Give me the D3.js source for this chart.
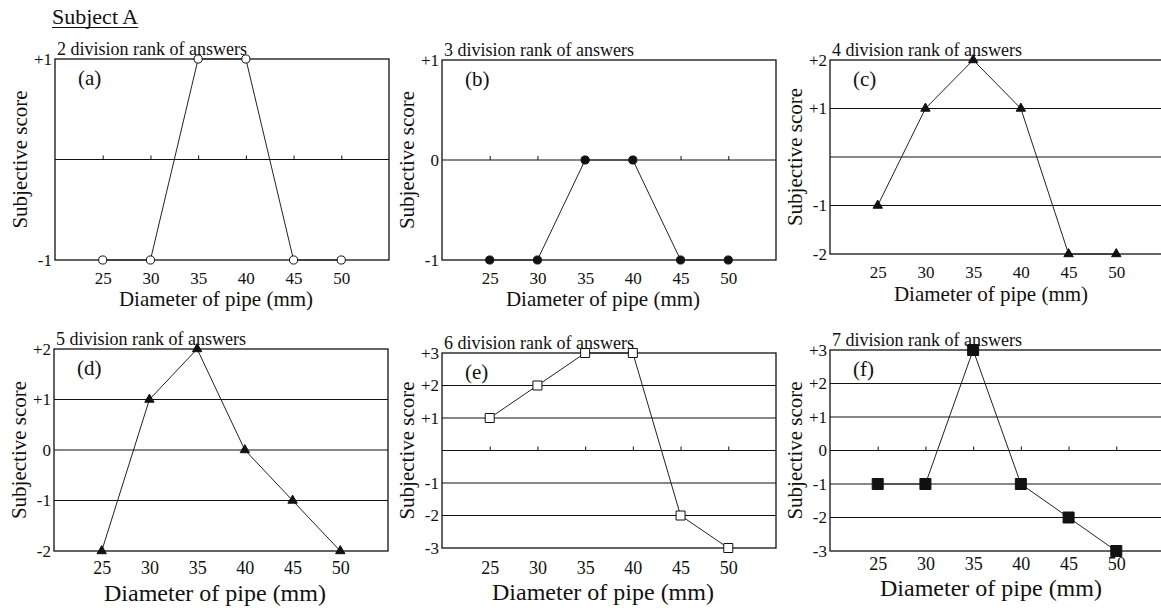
<!DOCTYPE html>
<html>
<head>
<meta charset="utf-8">
<script src="https://cdn.jsdelivr.net/npm/d3@7"></script>
<style>
  html, body { margin: 0; padding: 0; background: #fff; }
  svg { display: block; }
  text { font-family: "Liberation Serif", "Times New Roman", serif; fill: #111; }
</style>
</head>
<body>
<svg id="chart" width="1161" height="608"></svg>
<script>
// Pipe diameters tested (mm)
const diameters = [25, 30, 35, 40, 45, 50];

// Subjective scores of Subject A for each answer scale
const scores2 = [-1, -1, 1, 1, -1, -1];
const scores3 = [-1, -1, 0, 0, -1, -1];
const scores4 = [-1, 1, 2, 1, -2, -2];
const scores5 = [-2, 1, 2, 0, -1, -2];
const scores6 = [1, 2, 3, 3, -2, -3];
const scores7 = [-1, -1, 3, -1, -2, -3];

// Labelled ticks on the score axis of each panel
const yTicks2 = [-1, 1];
const yTicks3 = [-1, 0, 1];
const yTicks4 = [-2, -1, 1, 2];
const yTicks5 = [-2, -1, 0, 1, 2];
const yTicks6 = [-3, -2, -1, 1, 2, 3];
const yTicks7 = [-3, -2, -1, 0, 1, 2, 3];

// Horizontal reference lines inside each panel
const grid2 = [0];
const grid3 = [0];
const grid4 = [-1, 0, 1];
const grid5 = [-1, 0, 1];
const grid6 = [-2, -1, 0, 1, 2];
const grid7 = [-2, -1, 0, 1, 2];

const panelTags = ["(a)", "(b)", "(c)", "(d)", "(e)", "(f)"];
const divisions = [2, 3, 4, 5, 6, 7];

const panels = [
  { tag: panelTags[0], div: divisions[0], scores: scores2, yTicks: yTicks2, grid: grid2, range: 1, marker: "circleOpen",
    box: { x: 55, y: 59, w: 334, h: 201 }, zeroTicks: true, xLab: 24, xTitle: 46, xTitleSize: 21, xLabSize: 17 },
  { tag: panelTags[1], div: divisions[1], scores: scores3, yTicks: yTicks3, grid: grid3, range: 1, marker: "circleFilled",
    box: { x: 442, y: 60, w: 334, h: 200 }, zeroTicks: true, xLab: 24, xTitle: 46, xTitleSize: 21, xLabSize: 17 },
  { tag: panelTags[2], div: divisions[2], scores: scores4, yTicks: yTicks4, grid: grid4, range: 2, marker: "triangle",
    box: { x: 830, y: 60, w: 334, h: 194 }, zeroTicks: false, xLab: 24, xTitle: 47, xTitleSize: 21, xLabSize: 17 },
  { tag: panelTags[3], div: divisions[3], scores: scores5, yTicks: yTicks5, grid: grid5, range: 2, marker: "triangle",
    box: { x: 54, y: 349, w: 334, h: 202 }, zeroTicks: false, xLab: 23, xTitle: 50, xTitleSize: 24, xLabSize: 18 },
  { tag: panelTags[4], div: divisions[4], scores: scores6, yTicks: yTicks6, grid: grid6, range: 3, marker: "squareOpen",
    box: { x: 442, y: 353, w: 334, h: 195 }, zeroTicks: true, xLab: 26, xTitle: 52, xTitleSize: 24, xLabSize: 18 },
  { tag: panelTags[5], div: divisions[5], scores: scores7, yTicks: yTicks7, grid: grid7, range: 3, marker: "squareFilled",
    box: { x: 830, y: 350, w: 334, h: 201 }, zeroTicks: true, xLab: 19, xTitle: 45, xTitleSize: 24, xLabSize: 18 }
];

const svg = d3.select("#chart");
const ink = "#111";

// Heading
const heading = svg.append("text")
  .attr("x", 52).attr("y", 24)
  .attr("font-size", 22)
  .text("Subject A");
const hb = heading.node().getBBox();
svg.append("line")
  .attr("x1", hb.x).attr("x2", hb.x + hb.width)
  .attr("y1", 27.5).attr("y2", 27.5)
  .attr("stroke", ink).attr("stroke-width", 1.2);

const markerSymbols = {
  circleOpen:   { type: d3.symbolCircle,   size: 52,  fill: "#fff" },
  circleFilled: { type: d3.symbolCircle,   size: 52,  fill: ink },
  triangle:     { type: d3.symbolTriangle, size: 38,  fill: ink },
  squareOpen:   { type: d3.symbolSquare,   size: 81,  fill: "#fff" },
  squareFilled: { type: d3.symbolSquare,   size: 121, fill: ink }
};

const fmt = v => (v > 0 ? "+" + v : String(v));

panels.forEach(p => {
  const b = p.box;
  const x = d3.scaleLinear().domain([20, 55]).range([b.x, b.x + b.w]);
  const y = d3.scaleLinear().domain([-p.range, p.range]).range([b.y + b.h, b.y]);
  const g = svg.append("g");

  // Reference lines
  g.selectAll("line.grid").data(p.grid).join("line")
    .attr("class", "grid")
    .attr("x1", b.x).attr("x2", b.x + b.w)
    .attr("y1", d => y(d)).attr("y2", d => y(d))
    .attr("stroke", ink).attr("stroke-width", 1.1);

  // Frame
  g.append("rect")
    .attr("x", b.x).attr("y", y(p.range))
    .attr("width", b.w).attr("height", y(-p.range) - y(p.range))
    .attr("fill", "none").attr("stroke", ink).attr("stroke-width", 1.3);

  // Small tick marks standing on the zero line
  if (p.zeroTicks) {
    const zt = g.append("g")
      .attr("transform", `translate(0,${y(0)})`)
      .call(d3.axisTop(x).tickValues(diameters).tickSize(4).tickFormat(""));
    zt.select(".domain").remove();
    zt.selectAll("line").attr("stroke", ink).attr("stroke-width", 1);
  }

  // Diameter labels
  const xa = g.append("g")
    .attr("transform", `translate(0,${y(-p.range)})`)
    .call(d3.axisBottom(x).tickValues(diameters).tickSize(0).tickPadding(0).tickFormat(d3.format("d")));
  xa.select(".domain").remove();
  xa.selectAll("text")
    .attr("y", p.xLab).attr("dy", null)
    .attr("font-size", p.xLabSize)
    .attr("fill", ink);

  // Score labels
  const ya = g.append("g")
    .attr("transform", `translate(${b.x},0)`)
    .call(d3.axisLeft(y).tickValues(p.yTicks).tickSize(0).tickPadding(3).tickFormat(fmt));
  ya.select(".domain").remove();
  ya.selectAll("text")
    .attr("font-size", 17)
    .attr("fill", ink);

  // Axis titles
  g.append("text")
    .attr("x", x(37.5) - 6).attr("y", y(-p.range) + p.xTitle)
    .attr("text-anchor", "middle")
    .attr("font-size", p.xTitleSize)
    .text("Diameter of pipe (mm)");
  g.append("text")
    .attr("transform", `translate(${b.x - 28},${b.y + b.h / 2}) rotate(-90)`)
    .attr("text-anchor", "middle")
    .attr("font-size", 21)
    .text("Subjective score");

  // Panel caption and tag
  g.append("text")
    .attr("x", b.x + 2).attr("y", b.y - 4)
    .attr("font-size", 18)
    .text(`${p.div} division rank of answers`);
  g.append("text")
    .attr("x", b.x + 23).attr("y", b.y + 26)
    .attr("font-size", 21)
    .text(p.tag);

  // Score curve
  const pts = diameters.map((d, i) => [d, p.scores[i]]);
  g.append("path")
    .attr("d", d3.line().x(d => x(d[0])).y(d => y(d[1]))(pts))
    .attr("fill", "none").attr("stroke", "#222").attr("stroke-width", 1);

  const m = markerSymbols[p.marker];
  g.selectAll("path.mk").data(pts).join("path")
    .attr("class", "mk")
    .attr("transform", d => `translate(${x(d[0])},${y(d[1])})`)
    .attr("d", d3.symbol().type(m.type).size(m.size))
    .attr("fill", m.fill).attr("stroke", ink).attr("stroke-width", 1);
});
</script>
</body>
</html>
